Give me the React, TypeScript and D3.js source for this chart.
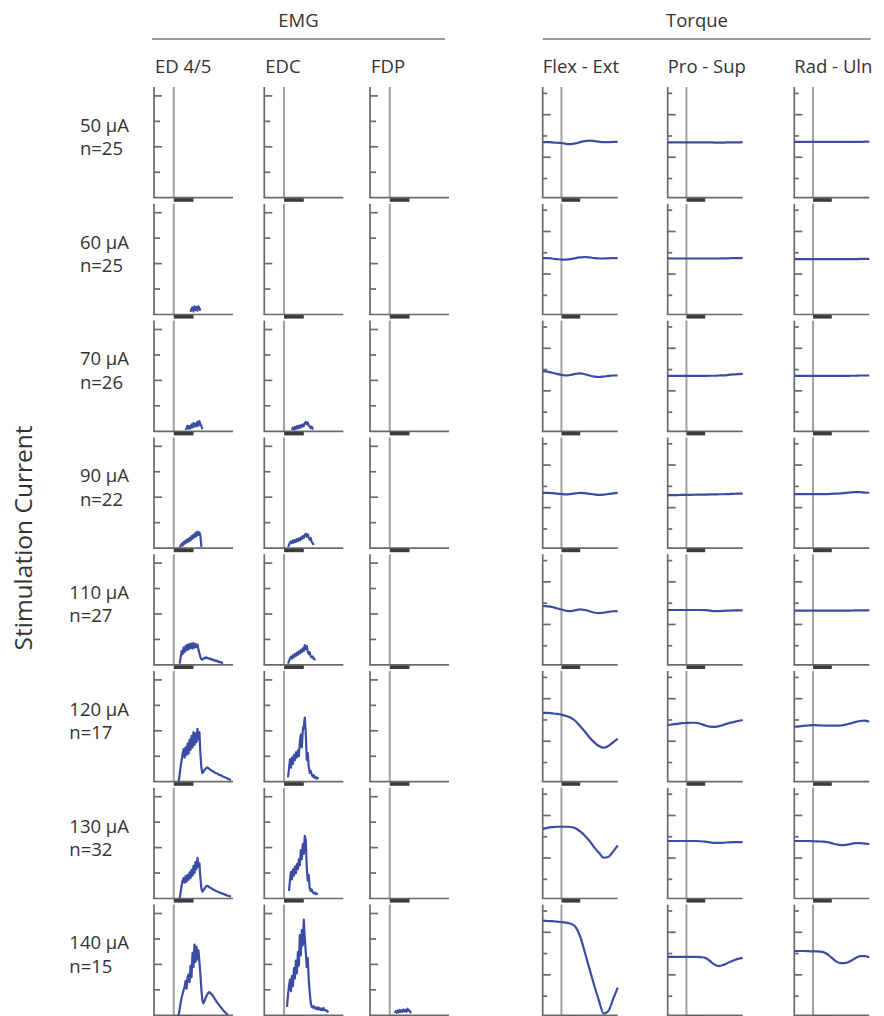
import React, { useEffect, useRef } from "react";
import * as d3 from "d3";

// ---------- data ----------
const ROW_CURRENTS = ["50 µA", "60 µA", "70 µA", "90 µA", "110 µA", "120 µA", "130 µA", "140 µA"];
const ROW_N = ["n=25", "n=25", "n=26", "n=22", "n=27", "n=17", "n=32", "n=15"];
const EMG_MUSCLES = ["ED 4/5", "EDC", "FDP"];
const TORQUE_AXES = ["Flex - Ext", "Pro - Sup", "Rad - Uln"];
const GROUP_TITLES = ["EMG", "Torque"];
const Y_TITLE = "Stimulation Current";
const EMG_TICKS = [1, 2, 3, 4];
const TORQUE_TICKS = [-2, -1, 0, 1, 2];
const TIME_DOMAIN = [-20, 60];
const STIM_WINDOW = [0, 20];
const EMG_DOMAIN = [0, 4.35];
const TORQUE_DOMAIN = [-2.9, 2.3];
const TORQUE_T = [-20, -15, -10, -5, 0, 5, 10, 15, 20, 25, 30, 35, 40, 45, 50, 55, 60];

type Trace = { start: number; values: number[] } | null;

// EMG traces, 1 ms per sample, start = first sample time (ms)
const ED45: Trace[] = [
  null,
  { start: 17, values: [0.1, 0.22, 0.28, 0.12, 0.32, 0.18, 0.3, 0.15, 0.32, 0.25, 0.15] },
  { start: 12, values: [0.05, 0.12, 0.22, 0.1, 0.2, 0.12, 0.27, 0.15, 0.32, 0.18, 0.3, 0.2, 0.37, 0.22, 0.4, 0.28, 0.2, 0.08] },
  { start: 6, values: [0.02, 0.1, 0.17, 0.1, 0.24, 0.17, 0.3, 0.22, 0.35, 0.25, 0.4, 0.3, 0.47, 0.37, 0.52, 0.42, 0.6, 0.47, 0.65, 0.52, 0.62, 0.48, 0.05] },
  { start: 6, values: [0.05, 0.3, 0.55, 0.42, 0.68, 0.5, 0.75, 0.58, 0.8, 0.6, 0.82, 0.66, 0.84, 0.64, 0.86, 0.68, 0.82, 0.7, 0.8, 0.6, 0.45, 0.3, 0.22, 0.2, 0.25, 0.28, 0.26, 0.3, 0.27, 0.25, 0.26, 0.22, 0.24, 0.2, 0.18, 0.2, 0.16, 0.15, 0.17, 0.12, 0.13, 0.1, 0.11, 0.08, 0.08] },
  { start: 5, values: [0.0, 0.3, 0.6, 0.85, 1.1, 1.28, 0.95, 1.35, 1.05, 1.5, 1.1, 1.65, 1.25, 1.8, 1.35, 1.95, 1.45, 1.9, 1.55, 2.08, 1.65, 1.95, 1.1, 0.55, 0.34, 0.38, 0.45, 0.5, 0.54, 0.56, 0.54, 0.5, 0.47, 0.45, 0.42, 0.4, 0.38, 0.35, 0.33, 0.32, 0.3, 0.27, 0.26, 0.24, 0.22, 0.2, 0.18, 0.17, 0.15, 0.13, 0.12, 0.1, 0.08, 0.07] },
  { start: 6, values: [0.0, 0.25, 0.5, 0.7, 0.8, 0.62, 0.88, 0.66, 0.93, 0.74, 1.03, 0.8, 1.13, 0.9, 1.28, 1.0, 1.43, 1.15, 1.6, 1.25, 1.38, 0.8, 0.4, 0.27, 0.32, 0.38, 0.44, 0.48, 0.5, 0.48, 0.45, 0.42, 0.4, 0.38, 0.35, 0.33, 0.31, 0.3, 0.28, 0.26, 0.24, 0.23, 0.21, 0.2, 0.18, 0.17, 0.15, 0.14, 0.12, 0.11, 0.1, 0.09, 0.08] },
  { start: 5, values: [0.0, 0.25, 0.5, 0.7, 0.85, 1.0, 1.11, 1.35, 1.05, 1.5, 1.6, 1.3, 1.95, 1.5, 2.45, 1.9, 2.78, 2.1, 2.7, 2.2, 2.55, 2.1, 1.6, 1.0, 0.6, 0.47, 0.55, 0.65, 0.75, 0.82, 0.88, 0.91, 0.88, 0.84, 0.8, 0.74, 0.68, 0.62, 0.56, 0.5, 0.45, 0.4, 0.35, 0.3, 0.25, 0.2, 0.16, 0.12, 0.08, 0.05, 0.03] },
];

const EDC: Trace[] = [
  null,
  null,
  { start: 8, values: [0.05, 0.14, 0.08, 0.17, 0.1, 0.2, 0.12, 0.22, 0.14, 0.24, 0.17, 0.27, 0.2, 0.32, 0.37, 0.28, 0.35, 0.22, 0.2, 0.12, 0.18, 0.1, 0.1] },
  { start: 4, values: [0.05, 0.12, 0.22, 0.26, 0.2, 0.3, 0.22, 0.32, 0.25, 0.35, 0.28, 0.38, 0.3, 0.42, 0.35, 0.47, 0.4, 0.52, 0.57, 0.45, 0.54, 0.42, 0.33, 0.4, 0.23, 0.2, 0.12] },
  { start: 4, values: [0.05, 0.15, 0.24, 0.32, 0.25, 0.38, 0.3, 0.43, 0.35, 0.48, 0.4, 0.53, 0.45, 0.58, 0.5, 0.65, 0.55, 0.78, 0.62, 0.74, 0.52, 0.42, 0.5, 0.33, 0.3, 0.33, 0.24, 0.22, 0.2] },
  { start: 4, values: [0.17, 0.5, 0.88, 0.55, 0.95, 0.7, 1.05, 0.85, 1.15, 0.95, 1.22, 1.0, 1.55, 1.85, 1.35, 2.05, 2.2, 2.52, 1.9, 0.85, 1.12, 0.6, 0.35, 0.42, 0.28, 0.2, 0.26, 0.15, 0.19, 0.12, 0.15, 0.12] },
  { start: 5, values: [0.3, 0.72, 1.05, 0.75, 1.15, 0.9, 1.25, 1.0, 1.35, 1.15, 1.55, 1.3, 1.9, 1.55, 2.15, 1.75, 2.46, 2.3, 1.2, 0.7, 0.92, 0.4, 0.3, 0.36, 0.25, 0.2, 0.23, 0.17, 0.2, 0.15] },
  { start: 3, values: [0.33, 0.8, 1.15, 1.4, 0.95, 1.55, 1.15, 1.85, 1.45, 2.15, 1.65, 2.48, 1.95, 3.15, 2.35, 3.35, 2.75, 3.76, 3.0, 2.5, 1.89, 2.25, 1.4, 0.9, 0.5, 0.33, 0.3, 0.36, 0.27, 0.31, 0.24, 0.31, 0.23, 0.29, 0.21, 0.26, 0.2, 0.29, 0.21, 0.18, 0.2, 0.15, 0.12] },
];

const FDP: Trace[] = [
  null, null, null, null, null, null, null,
  { start: 5, values: [0.1, 0.16, 0.1, 0.19, 0.12, 0.21, 0.13, 0.19, 0.14, 0.23, 0.15, 0.21, 0.14, 0.26, 0.18, 0.19, 0.12, 0.1] },
];

// Torque traces sampled at TORQUE_T
const FLEX_EXT: number[][] = [
  [-0.29, -0.29, -0.3, -0.32, -0.33, -0.37, -0.38, -0.35, -0.29, -0.24, -0.22, -0.24, -0.27, -0.29, -0.29, -0.28, -0.28],
  [-0.25, -0.25, -0.27, -0.3, -0.32, -0.32, -0.3, -0.25, -0.22, -0.2, -0.22, -0.25, -0.27, -0.27, -0.26, -0.25, -0.25],
  [-0.07, -0.1, -0.15, -0.2, -0.25, -0.28, -0.25, -0.2, -0.18, -0.22, -0.28, -0.33, -0.35, -0.33, -0.3, -0.28, -0.28],
  [-0.31, -0.31, -0.32, -0.34, -0.36, -0.38, -0.36, -0.33, -0.31, -0.32, -0.35, -0.38, -0.4, -0.39, -0.36, -0.33, -0.31],
  [-0.13, -0.15, -0.18, -0.24, -0.3, -0.36, -0.37, -0.33, -0.29, -0.32, -0.38, -0.44, -0.47, -0.45, -0.41, -0.38, -0.37],
  [0.33, 0.33, 0.31, 0.29, 0.25, 0.19, 0.1, -0.05, -0.3, -0.55, -0.82, -1.05, -1.22, -1.3, -1.22, -1.05, -0.88],
  [0.37, 0.42, 0.45, 0.47, 0.47, 0.47, 0.46, 0.4, 0.25, 0.05, -0.2, -0.5, -0.75, -0.98, -0.95, -0.7, -0.4],
  [1.55, 1.53, 1.52, 1.5, 1.48, 1.45, 1.4, 1.25, 0.8, 0.05, -0.73, -1.5, -2.21, -2.82, -2.7, -2.15, -1.6],
];

const PRO_SUP: number[][] = [
  [-0.3, -0.3, -0.3, -0.3, -0.3, -0.3, -0.3, -0.3, -0.3, -0.3, -0.31, -0.31, -0.31, -0.3, -0.3, -0.3, -0.29],
  [-0.27, -0.27, -0.27, -0.27, -0.27, -0.27, -0.27, -0.27, -0.27, -0.27, -0.27, -0.27, -0.26, -0.26, -0.25, -0.25, -0.24],
  [-0.3, -0.3, -0.3, -0.3, -0.3, -0.3, -0.3, -0.3, -0.3, -0.29, -0.29, -0.28, -0.27, -0.25, -0.23, -0.21, -0.2],
  [-0.41, -0.41, -0.41, -0.4, -0.4, -0.4, -0.39, -0.39, -0.39, -0.38, -0.38, -0.37, -0.37, -0.36, -0.35, -0.34, -0.34],
  [-0.32, -0.32, -0.32, -0.32, -0.32, -0.32, -0.32, -0.32, -0.33, -0.35, -0.37, -0.37, -0.36, -0.35, -0.34, -0.34, -0.34],
  [-0.24, -0.21, -0.18, -0.15, -0.14, -0.13, -0.13, -0.18, -0.26, -0.31, -0.32, -0.29, -0.22, -0.15, -0.1, -0.05, 0],
  [-0.2, -0.2, -0.2, -0.2, -0.2, -0.2, -0.2, -0.21, -0.23, -0.26, -0.29, -0.29, -0.28, -0.26, -0.25, -0.25, -0.25],
  [-0.16, -0.16, -0.16, -0.16, -0.16, -0.16, -0.16, -0.17, -0.2, -0.35, -0.52, -0.59, -0.52, -0.42, -0.33, -0.25, -0.2],
];

const RAD_ULN: number[][] = [
  [-0.28, -0.28, -0.28, -0.28, -0.28, -0.28, -0.28, -0.28, -0.28, -0.28, -0.28, -0.28, -0.28, -0.28, -0.28, -0.27, -0.27],
  [-0.3, -0.3, -0.3, -0.3, -0.3, -0.3, -0.3, -0.3, -0.3, -0.3, -0.3, -0.3, -0.3, -0.3, -0.29, -0.29, -0.29],
  [-0.3, -0.3, -0.3, -0.3, -0.3, -0.3, -0.3, -0.3, -0.3, -0.3, -0.3, -0.3, -0.29, -0.29, -0.28, -0.28, -0.28],
  [-0.36, -0.36, -0.36, -0.36, -0.36, -0.36, -0.36, -0.36, -0.35, -0.34, -0.33, -0.31, -0.28, -0.27, -0.27, -0.29, -0.3],
  [-0.35, -0.35, -0.35, -0.35, -0.35, -0.35, -0.35, -0.35, -0.35, -0.35, -0.35, -0.35, -0.35, -0.34, -0.34, -0.34, -0.34],
  [-0.32, -0.3, -0.28, -0.26, -0.24, -0.25, -0.26, -0.27, -0.27, -0.27, -0.26, -0.22, -0.16, -0.1, -0.05, -0.03, -0.08],
  [-0.2, -0.2, -0.2, -0.2, -0.21, -0.22, -0.23, -0.25, -0.3, -0.36, -0.39, -0.38, -0.34, -0.3, -0.3, -0.32, -0.34],
  [0.12, 0.12, 0.12, 0.11, 0.1, 0.1, 0.08, -0.02, -0.2, -0.38, -0.45, -0.44, -0.35, -0.22, -0.12, -0.12, -0.17],
];

const EMG_TRACES = [ED45, EDC, FDP];
const TORQUE_TRACES = [FLEX_EXT, PRO_SUP, RAD_ULN];

// ---------- layout ----------
const W = 884;
const H = 1016;
const FONT = "'Open Sans', 'DejaVu Sans', sans-serif";
const TEXT_COLOR = "#333";
const AXIS_COLOR = "#6a6a6a";
const STIM_LINE = "#a0a0a0";
const BAR_COLOR = "#3c3c3c";
const TRACE_COLOR = "#3a4da2";
const EMG_X0 = [154, 264.3, 370];
const TORQUE_X0 = [542.7, 667.7, 794.3];
const EMG_W = 79;
const TORQUE_W = 75;
const ROW_BOTTOM0 = 197.7;
const ROW_STEP = 116.8;
const PANEL_H = 110.7;
const LABEL_SIZE = 18.5;

export default function App() {
  const ref = useRef<SVGSVGElement | null>(null);

  useEffect(() => {
    const svg = d3.select(ref.current);
    svg.selectAll("*").remove();
    const g = svg.append("g");

    // group titles
    const groups = [
      { title: GROUP_TITLES[0], cx: 298.5, x1: 152, x2: 445 },
      { title: GROUP_TITLES[1], cx: 697, x1: 542.7, x2: 870.7 },
    ];
    groups.forEach((gr) => {
      g.append("text").attr("x", gr.cx).attr("y", 27).attr("text-anchor", "middle")
        .attr("font-family", FONT).attr("font-size", LABEL_SIZE).attr("fill", TEXT_COLOR).text(gr.title);
      g.append("line").attr("x1", gr.x1).attr("x2", gr.x2).attr("y1", 39).attr("y2", 39)
        .attr("stroke", "#9a9a9a").attr("stroke-width", 2);
    });

    // column titles
    EMG_MUSCLES.forEach((m, i) => {
      g.append("text").attr("x", EMG_X0[i] + 1).attr("y", 72.5)
        .attr("font-family", FONT).attr("font-size", LABEL_SIZE).attr("fill", TEXT_COLOR).text(m);
    });
    TORQUE_AXES.forEach((m, i) => {
      g.append("text").attr("x", TORQUE_X0[i]).attr("y", 72.5)
        .attr("font-family", FONT).attr("font-size", LABEL_SIZE).attr("fill", TEXT_COLOR).text(m);
    });

    // y title
    g.append("text").attr("transform", "translate(32,538) rotate(-90)")
      .attr("text-anchor", "middle").attr("font-family", FONT).attr("font-size", 24.5)
      .attr("fill", TEXT_COLOR).text(Y_TITLE);

    const drawPanel = (
      x0: number, w: number, bottom: number, yDomain: number[], ticks: number[],
      tickLen: (v: number) => number,
    ) => {
      const x = d3.scaleLinear().domain(TIME_DOMAIN).range([x0, x0 + w]);
      const y = d3.scaleLinear().domain(yDomain).range([bottom, bottom - PANEL_H]);
      const p = g.append("g");
      p.append("line").attr("x1", x(0)).attr("x2", x(0)).attr("y1", bottom - PANEL_H).attr("y2", bottom)
        .attr("stroke", STIM_LINE).attr("stroke-width", 2);
      p.append("line").attr("x1", x0).attr("x2", x0).attr("y1", bottom - PANEL_H).attr("y2", bottom)
        .attr("stroke", AXIS_COLOR).attr("stroke-width", 1.7);
      p.append("line").attr("x1", x0 - 0.85).attr("x2", x0 + w).attr("y1", bottom).attr("y2", bottom)
        .attr("stroke", AXIS_COLOR).attr("stroke-width", 1.7);
      ticks.forEach((v) => {
        p.append("line").attr("x1", x0).attr("x2", x0 + tickLen(v)).attr("y1", y(v)).attr("y2", y(v))
          .attr("stroke", AXIS_COLOR).attr("stroke-width", 1.7);
      });
      p.append("rect").attr("x", x(STIM_WINDOW[0])).attr("y", bottom + 0.5)
        .attr("width", x(STIM_WINDOW[1]) - x(STIM_WINDOW[0])).attr("height", 3.6).attr("fill", BAR_COLOR);
      return { x, y, p };
    };

    for (let r = 0; r < ROW_CURRENTS.length; r++) {
      const bottom = ROW_BOTTOM0 + r * ROW_STEP;

      const t1 = g.append("text").attr("y", bottom - 66).attr("font-family", FONT)
        .attr("font-size", LABEL_SIZE).attr("fill", TEXT_COLOR).text(ROW_CURRENTS[r]);
      const len = (t1.node() as SVGTextElement).getComputedTextLength();
      const lx = 129 - len;
      t1.attr("x", lx);
      g.append("text").attr("x", lx).attr("y", bottom - 42.5).attr("font-family", FONT)
        .attr("font-size", LABEL_SIZE).attr("fill", TEXT_COLOR).text(ROW_N[r]);

      EMG_MUSCLES.forEach((_, c) => {
        const { x, y, p } = drawPanel(EMG_X0[c], EMG_W, bottom, EMG_DOMAIN, EMG_TICKS,
          (v) => (v % 2 === 0 ? 8 : 6));
        const tr = EMG_TRACES[c][r];
        if (tr) {
          const pts: [number, number][] = tr.values.map((v, i) => [tr.start + i, v]);
          const line = d3.line<[number, number]>().x((d) => x(d[0])).y((d) => y(d[1]));
          p.append("path").attr("d", line(pts)).attr("fill", "none").attr("stroke", TRACE_COLOR)
            .attr("stroke-width", 2.2).attr("stroke-linejoin", "round");
        }
      });

      TORQUE_AXES.forEach((_, c) => {
        const { x, y, p } = drawPanel(TORQUE_X0[c], TORQUE_W, bottom, TORQUE_DOMAIN, TORQUE_TICKS,
          (v) => (Math.abs(v) % 2 === 1 ? 8 : 4.5));
        const vals = TORQUE_TRACES[c][r];
        const pts: [number, number][] = vals.map((v, i) => [TORQUE_T[i], v]);
        const line = d3.line<[number, number]>().x((d) => x(d[0])).y((d) => y(d[1]))
          .curve(d3.curveMonotoneX);
        p.append("path").attr("d", line(pts)).attr("fill", "none").attr("stroke", TRACE_COLOR)
          .attr("stroke-width", 2.2);
      });
    }
  }, []);

  return (
    <svg
      ref={ref}
      width={W}
      height={H}
      style={{ position: "absolute", left: 0, top: 0, background: "#fff" }}
    />
  );
}
